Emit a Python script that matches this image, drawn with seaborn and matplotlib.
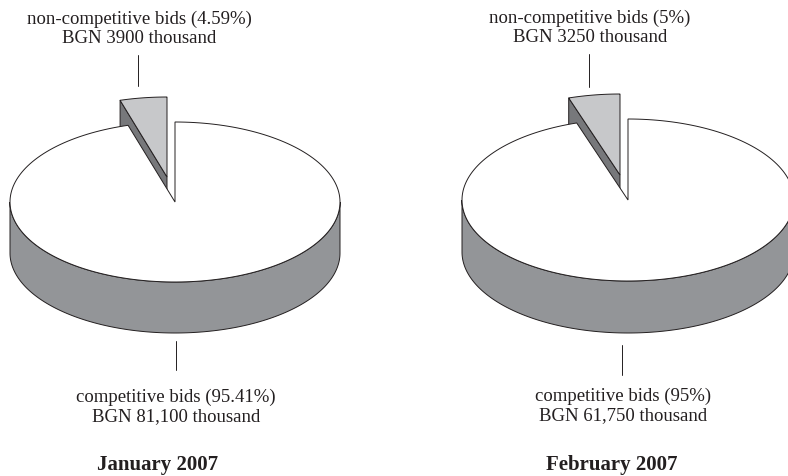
import numpy as np
import seaborn as sns
import matplotlib.pyplot as plt
from matplotlib.patches import Polygon

# Values (BGN thousand)
months = ["January 2007", "February 2007"]
competitive = [81100, 61750]
non_competitive = [3900, 3250]
comp_labels = ["competitive bids (95.41%)\nBGN 81,100 thousand",
               "competitive bids (95%)\nBGN 61,750 thousand"]
non_comp_labels = ["non-competitive bids (4.59%)\nBGN 3900 thousand",
                   "non-competitive bids (5%)\nBGN 3250 thousand"]

# Colours: main top, main side, wedge top, wedge side
top_col, side_col, wedge_col, wedge_side_col = sns.color_palette(
    ["#ffffff", "#939598", "#c7c8ca", "#77787b"])
ink = "#231f20"

sns.set_theme(style="white")
plt.rcParams["font.family"] = ["Liberation Serif", "DejaVu Serif"]

fig = plt.figure(figsize=(7.88, 4.76), dpi=100)
ax = fig.add_axes([0, 0, 1, 1])
ax.set_xlim(0, 788)
ax.set_ylim(476, 0)
ax.axis("off")


def rim(cx, cy, rx, ry, a0, a1, dy=0):
    # points on the ellipse, angle in degrees clockwise from the top
    t = np.radians(np.linspace(a0, a1, 200))
    return np.column_stack([cx + rx * np.sin(t), cy - ry * np.cos(t) + dy])


def draw_pie(cx, cy, rx, ry, depth, wx, wy, share):
    ang = 360 * share
    lw = 0.7

    # pulled out slice first, the big slice covers its lower part
    tip = np.array([wx, wy])
    outer = rim(wx, wy, rx, ry, -ang, -ang)[0]
    face = np.array([tip, outer, outer + [0, depth], tip + [0, depth]])
    ax.add_patch(Polygon(face, fc=wedge_side_col, ec=ink, lw=lw, joinstyle="round"))
    arc = rim(wx, wy, rx, ry, -ang, 0)
    ax.add_patch(Polygon(np.vstack([[tip], arc]), fc=wedge_col, ec=ink, lw=lw))

    # side wall of the big slice
    front = rim(cx, cy, rx, ry, 90, 270)
    back = rim(cx, cy, rx, ry, 270, 90, dy=depth)
    ax.add_patch(Polygon(np.vstack([front, back]), fc=side_col, ec=ink, lw=lw))

    # top of the big slice
    arc = rim(cx, cy, rx, ry, 0, 360 - ang)
    ax.add_patch(Polygon(np.vstack([[[cx, cy]], arc]), fc=top_col, ec=ink, lw=lw))


# layout per pie: centre, radii, depth, slice tip
pies = [dict(cx=175, cy=202, rx=165, ry=80, depth=51, wx=167, wy=177),
        dict(cx=628, cy=200, rx=166, ry=81, depth=52, wx=620, wy=175)]
top_x = [139, 590]
top_y = [29, 28]
bottom_x = [176, 623]
bottom_y = [407, 406]
title_x = [158, 612]
top_leader = [(55, 86), (54, 87)]
bottom_leader = [(341, 370), (345, 375)]
leader_x = [(138.5, 176), (589, 622)]

for i, month in enumerate(months):
    share = non_competitive[i] / (competitive[i] + non_competitive[i])
    draw_pie(share=share, **pies[i])

    ax.plot([leader_x[i][0]] * 2, top_leader[i], color=ink, lw=0.7)
    ax.plot([leader_x[i][1]] * 2, bottom_leader[i], color=ink, lw=0.7)

    ax.text(top_x[i], top_y[i], non_comp_labels[i], ha="center", va="center",
            fontsize=13.5, color=ink, linespacing=1.17)
    ax.text(bottom_x[i], bottom_y[i], comp_labels[i], ha="center", va="center",
            fontsize=13.5, color=ink, linespacing=1.17)
    ax.text(title_x[i], 465, month, ha="center", va="center",
            fontsize=15, fontweight="bold", color=ink)

fig.savefig("out.png", dpi=100)
